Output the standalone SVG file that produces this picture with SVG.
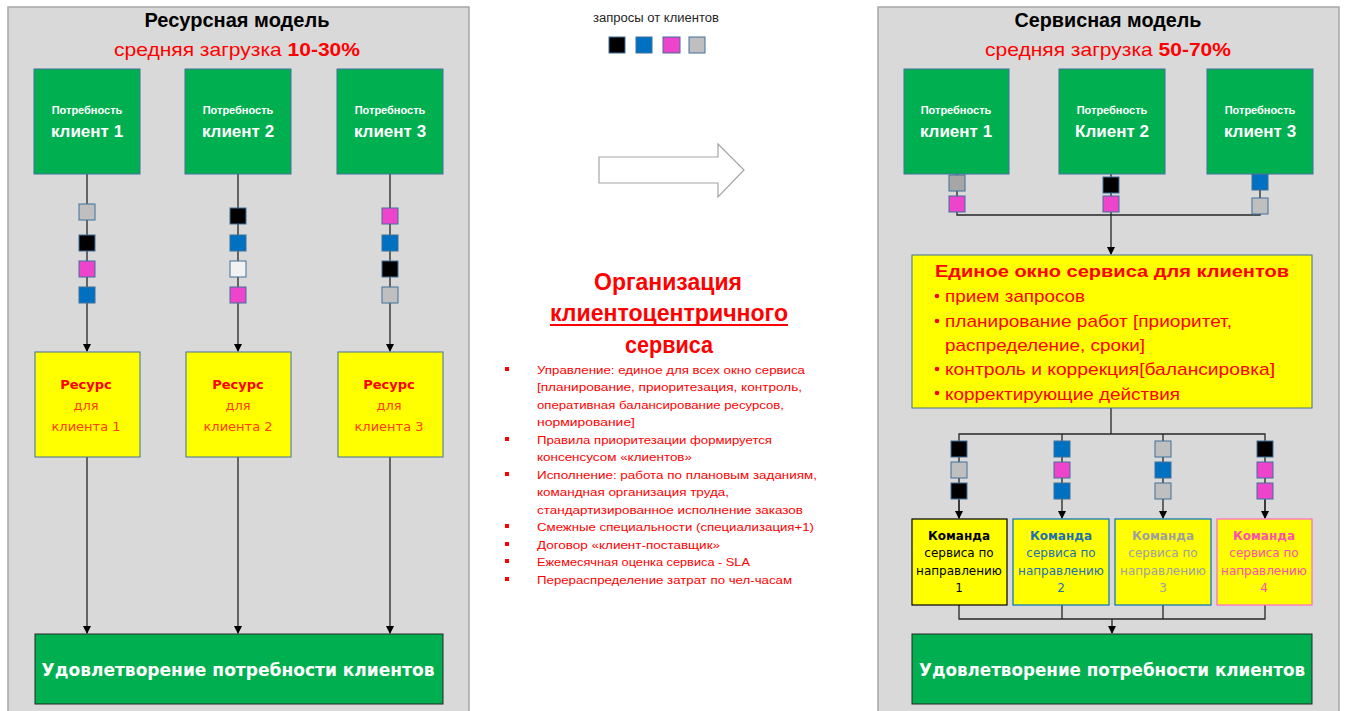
<svg xmlns="http://www.w3.org/2000/svg" width="1346" height="711" viewBox="0 0 1346 711">
  <style>
    .panel { fill: #D9D9D9; stroke: #A6A6A6; stroke-width: 1.5; }
    .need { fill: #00B050; stroke: #41719C; stroke-width: 1; }
    .res { fill: #FFFF00; stroke: #41719C; stroke-width: 1; }
    .sat { fill: #00B050; stroke: #262626; stroke-width: 1; }
    .ln { fill: none; stroke: #262626; stroke-width: 1.3; }
    .sq { stroke: #41719C; stroke-width: 1; }
    .k { fill: #000000; } .b { fill: #0070C0; } .m { fill: #EE44CC; } .g { fill: #BFBFBF; } .w { fill: #F2F2F2; } .dg { fill: #A6A6A6; }
    .t { font-family: "Liberation Sans", Arial, sans-serif; }
    .v { font-family: "DejaVu Sans", Verdana, sans-serif; }
    .ttl { font-size: 20px; font-weight: bold; fill: #000; text-anchor: middle; }
    .load { font-size: 19px; fill: #FF0000; text-anchor: middle; }
    .nd1 { font-size: 11px; font-weight: bold; fill: #FFFFFF; text-anchor: middle; }
    .nd2 { font-size: 17px; font-weight: bold; fill: #FFFFFF; text-anchor: middle; }
    .rs1 { font-size: 13px; font-weight: bold; fill: #FF0000; text-anchor: middle; }
    .rs2 { font-size: 13px; fill: #FF4000; text-anchor: middle; }
    .satt { font-size: 18px; font-weight: bold; fill: #FFFFFF; text-anchor: middle; }
    .org { font-size: 23px; font-weight: bold; fill: #FF0000; text-anchor: middle; }
    .li { font-size: 11.5px; fill: #FF0000; }
    .win { font-size: 17px; fill: #FF0000; }
    .tm { font-size: 12px; text-anchor: middle; }
  </style>
  <defs>
    <marker id="ah" markerWidth="8" markerHeight="8" refX="7" refY="4" orient="auto" markerUnits="userSpaceOnUse">
      <path d="M0,0 L8,4 L0,8 Z" fill="#000"/>
    </marker>
  </defs>

  <!-- panels -->
  <rect class="panel" x="8" y="7" width="461" height="710"/>
  <rect class="panel" x="878" y="7" width="461" height="710"/>

  <!-- left panel titles -->
  <text class="t ttl" x="237" y="27" textLength="185" lengthAdjust="spacingAndGlyphs">Ресурсная модель</text>
  <text class="t load" x="237" y="56" textLength="246" lengthAdjust="spacingAndGlyphs">средняя загрузка <tspan font-weight="bold">10-30%</tspan></text>

  <!-- right panel titles -->
  <text class="t ttl" x="1108" y="27" textLength="187" lengthAdjust="spacingAndGlyphs">Сервисная модель</text>
  <text class="t load" x="1108" y="56" textLength="246" lengthAdjust="spacingAndGlyphs">средняя загрузка <tspan font-weight="bold">50-70%</tspan></text>

  <!-- connectors -->
  <g id="connectors">
    <!-- resource model -->
    <line class="ln" x1="87" y1="174" x2="87" y2="351" marker-end="url(#ah)"/>
    <line class="ln" x1="238" y1="174" x2="238" y2="351" marker-end="url(#ah)"/>
    <line class="ln" x1="390" y1="174" x2="390" y2="351" marker-end="url(#ah)"/>
    <line class="ln" x1="87" y1="457" x2="87" y2="633" marker-end="url(#ah)"/>
    <line class="ln" x1="238" y1="457" x2="238" y2="633" marker-end="url(#ah)"/>
    <line class="ln" x1="390" y1="457" x2="390" y2="633" marker-end="url(#ah)"/>
    <!-- service model: needs to single window -->
    <polyline class="ln" points="957,174 957,215 1260,215 1260,174"/>
    <line class="ln" x1="1111" y1="174" x2="1111" y2="215"/>
    <line class="ln" x1="1111" y1="215" x2="1111" y2="254" marker-end="url(#ah)"/>
    <!-- single window to teams -->
    <line class="ln" x1="1111" y1="408" x2="1111" y2="434"/>
    <polyline class="ln" points="959,518 959,434 1265,434 1265,518"/>
    <line class="ln" x1="959" y1="500" x2="959" y2="518" marker-end="url(#ah)"/>
    <line class="ln" x1="1062" y1="434" x2="1062" y2="518" marker-end="url(#ah)"/>
    <line class="ln" x1="1163" y1="434" x2="1163" y2="518" marker-end="url(#ah)"/>
    <line class="ln" x1="1265" y1="500" x2="1265" y2="518" marker-end="url(#ah)"/>
    <!-- teams to satisfaction -->
    <polyline class="ln" points="959,605 959,619 1265,619 1265,605"/>
    <line class="ln" x1="1062" y1="605" x2="1062" y2="619"/>
    <line class="ln" x1="1163" y1="605" x2="1163" y2="619"/>
    <line class="ln" x1="1112" y1="619" x2="1112" y2="633" marker-end="url(#ah)"/>
  </g>

  <!-- request tokens, resource model -->
  <g id="tokens-left">
    <rect class="sq g" x="79" y="204" width="16" height="16"/>
    <rect class="sq k" x="79" y="235" width="16" height="16"/>
    <rect class="sq m" x="79" y="261" width="16" height="16"/>
    <rect class="sq b" x="79" y="287" width="16" height="16"/>
    <rect class="sq k" x="230" y="208" width="16" height="16"/>
    <rect class="sq b" x="230" y="235" width="16" height="16"/>
    <rect class="sq w" x="230" y="261" width="16" height="16"/>
    <rect class="sq m" x="230" y="287" width="16" height="16"/>
    <rect class="sq m" x="382" y="208" width="16" height="16"/>
    <rect class="sq b" x="382" y="235" width="16" height="16"/>
    <rect class="sq k" x="382" y="261" width="16" height="16"/>
    <rect class="sq g" x="382" y="287" width="16" height="16"/>
  </g>

  <!-- client needs, resource model -->
  <g id="need-l1"><rect class="need" x="34" y="69" width="106" height="105"/>
    <text class="t nd1" x="87" y="114">Потребность</text><text class="t nd2" x="87" y="137">клиент 1</text></g>
  <g id="need-l2"><rect class="need" x="185" y="69" width="106" height="105"/>
    <text class="t nd1" x="238" y="114">Потребность</text><text class="t nd2" x="238" y="137">клиент 2</text></g>
  <g id="need-l3"><rect class="need" x="337" y="69" width="106" height="105"/>
    <text class="t nd1" x="390" y="114">Потребность</text><text class="t nd2" x="390" y="137">клиент 3</text></g>

  <!-- resources -->
  <g id="res-1"><rect class="res" x="35" y="352" width="105" height="105"/>
    <text class="v rs1" x="86" y="389">Ресурс</text><text class="v rs2" x="86" y="410">для</text><text class="v rs2" x="86" y="431">клиента 1</text></g>
  <g id="res-2"><rect class="res" x="186" y="352" width="105" height="105"/>
    <text class="v rs1" x="238" y="389">Ресурс</text><text class="v rs2" x="238" y="410">для</text><text class="v rs2" x="238" y="431">клиента 2</text></g>
  <g id="res-3"><rect class="res" x="338" y="352" width="105" height="105"/>
    <text class="v rs1" x="389" y="389">Ресурс</text><text class="v rs2" x="389" y="410">для</text><text class="v rs2" x="389" y="431">клиента 3</text></g>

  <!-- satisfaction, resource model -->
  <g id="sat-left"><rect class="sat" x="35" y="634" width="408" height="70"/>
    <text class="v satt" x="238" y="676" textLength="393" lengthAdjust="spacingAndGlyphs">Удовлетворение  потребности  клиентов</text></g>

  <!-- legend -->
  <g id="legend">
    <text class="t" x="656" y="22" font-size="12" fill="#262626" text-anchor="middle" textLength="126" lengthAdjust="spacingAndGlyphs">запросы от клиентов</text>
    <rect class="sq k" x="609" y="37" width="16" height="16"/>
    <rect class="sq b" x="636" y="37" width="16" height="16"/>
    <rect class="sq m" x="663" y="37" width="17" height="16"/>
    <rect class="sq g" x="689" y="37" width="16" height="16"/>
  </g>

  <!-- transition arrow -->
  <g id="big-arrow">
    <path d="M599,157 L718,157 L718,144 L744,170 L718,197 L718,183 L599,183 Z" fill="#FFFFFF" stroke="#A6A6A6" stroke-width="1.2"/>
  </g>

  <!-- centre text -->
  <g id="org-text">
    <text class="t org" x="668" y="290" textLength="148" lengthAdjust="spacingAndGlyphs">Организация</text>
    <text class="t org" x="669" y="321" textLength="238" lengthAdjust="spacingAndGlyphs">клиентоцентричного</text>
    <line x1="550" y1="325" x2="788" y2="325" stroke="#FF0000" stroke-width="2"/>
    <text class="t org" x="669" y="353" textLength="88" lengthAdjust="spacingAndGlyphs">сервиса</text>
    <g fill="#FF0000">
      <rect x="505" y="367" width="4" height="4"/>
      <rect x="505" y="437" width="4" height="4"/>
      <rect x="505" y="472" width="4" height="4"/>
      <rect x="505" y="524" width="4" height="4"/>
      <rect x="505" y="542" width="4" height="4"/>
      <rect x="505" y="559" width="4" height="4"/>
      <rect x="505" y="577" width="4" height="4"/>
    </g>
    <text class="t li" x="537" y="374" textLength="268" lengthAdjust="spacingAndGlyphs">Управление:  единое  для всех  окно сервиса</text>
    <text class="t li" x="537" y="391" textLength="265" lengthAdjust="spacingAndGlyphs">[планирование, приоритезация, контроль,</text>
    <text class="t li" x="537" y="409" textLength="247" lengthAdjust="spacingAndGlyphs">оперативная балансирование ресурсов,</text>
    <text class="t li" x="537" y="426" textLength="98" lengthAdjust="spacingAndGlyphs">нормирование]</text>
    <text class="t li" x="537" y="444" textLength="235" lengthAdjust="spacingAndGlyphs">Правила приоритезации формируется</text>
    <text class="t li" x="537" y="461" textLength="155" lengthAdjust="spacingAndGlyphs">консенсусом «клиентов»</text>
    <text class="t li" x="537" y="479" textLength="280" lengthAdjust="spacingAndGlyphs">Исполнение:  работа по плановым заданиям,</text>
    <text class="t li" x="537" y="496" textLength="192" lengthAdjust="spacingAndGlyphs">командная организация труда,</text>
    <text class="t li" x="537" y="514" textLength="266" lengthAdjust="spacingAndGlyphs">стандартизированное исполнение  заказов</text>
    <text class="t li" x="537" y="531" textLength="277" lengthAdjust="spacingAndGlyphs">Смежные  специальности (специализация+1)</text>
    <text class="t li" x="537" y="549" textLength="183" lengthAdjust="spacingAndGlyphs">Договор  «клиент-поставщик»</text>
    <text class="t li" x="537" y="566" textLength="213" lengthAdjust="spacingAndGlyphs">Ежемесячная  оценка  сервиса - SLA</text>
    <text class="t li" x="537" y="584" textLength="255" lengthAdjust="spacingAndGlyphs">Перераспределение   затрат по чел-часам</text>
  </g>

  <!-- request tokens, service model -->
  <g id="tokens-right">
    <rect class="sq dg" x="949" y="175" width="16" height="16"/>
    <rect class="sq m" x="949" y="196" width="16" height="16"/>
    <rect class="sq k" x="1103" y="177" width="16" height="16"/>
    <rect class="sq m" x="1103" y="196" width="16" height="16"/>
    <rect class="sq b" x="1252" y="174" width="16" height="16"/>
    <rect class="sq g" x="1252" y="198" width="16" height="16"/>

    <rect class="sq k" x="951" y="441" width="16" height="16"/>
    <rect class="sq g" x="951" y="462" width="16" height="16"/>
    <rect class="sq k" x="951" y="483" width="16" height="16"/>
    <rect class="sq b" x="1054" y="441" width="16" height="16"/>
    <rect class="sq m" x="1054" y="462" width="16" height="16"/>
    <rect class="sq b" x="1054" y="483" width="16" height="16"/>
    <rect class="sq g" x="1155" y="441" width="16" height="16"/>
    <rect class="sq b" x="1155" y="462" width="16" height="16"/>
    <rect class="sq g" x="1155" y="483" width="16" height="16"/>
    <rect class="sq k" x="1257" y="441" width="16" height="16"/>
    <rect class="sq m" x="1257" y="462" width="16" height="16"/>
    <rect class="sq m" x="1257" y="483" width="16" height="16"/>
  </g>

  <!-- client needs, service model -->
  <g id="need-r1"><rect class="need" x="904" y="69" width="105" height="105"/>
    <text class="t nd1" x="956" y="114">Потребность</text><text class="t nd2" x="956" y="137">клиент 1</text></g>
  <g id="need-r2"><rect class="need" x="1059" y="69" width="106" height="105"/>
    <text class="t nd1" x="1112" y="114">Потребность</text><text class="t nd2" x="1112" y="137">Клиент 2</text></g>
  <g id="need-r3"><rect class="need" x="1207" y="69" width="106" height="105"/>
    <text class="t nd1" x="1260" y="114">Потребность</text><text class="t nd2" x="1260" y="137">клиент 3</text></g>

  <!-- single service window -->
  <g id="window">
    <rect class="res" x="912" y="255" width="400" height="153"/>
    <text class="t win" x="935" y="277" font-weight="bold" textLength="354" lengthAdjust="spacingAndGlyphs">Единое окно  сервиса для клиентов</text>
    <g fill="#FF0000">
      <circle cx="937" cy="296" r="2.3"/>
      <circle cx="937" cy="321" r="2.3"/>
      <circle cx="937" cy="369" r="2.3"/>
      <circle cx="937" cy="393" r="2.3"/>
    </g>
    <text class="t win" x="945" y="302" textLength="140" lengthAdjust="spacingAndGlyphs">прием запросов</text>
    <text class="t win" x="945" y="327" textLength="287" lengthAdjust="spacingAndGlyphs">планирование работ [приоритет,</text>
    <text class="t win" x="945" y="351" textLength="200" lengthAdjust="spacingAndGlyphs">распределение, сроки]</text>
    <text class="t win" x="945" y="375" textLength="330" lengthAdjust="spacingAndGlyphs">контроль и коррекция[балансировка]</text>
    <text class="t win" x="945" y="400" textLength="235" lengthAdjust="spacingAndGlyphs">корректирующие действия</text>
  </g>

  <!-- service teams -->
  <g id="team-1"><rect x="912" y="519" width="95" height="86" fill="#FFFF00" stroke="#000" stroke-width="1.2"/>
    <g class="v tm" fill="#000"><text x="959" y="540" font-weight="bold">Команда</text><text x="959" y="557">сервиса по</text><text x="959" y="575">направлению</text><text x="959" y="592">1</text></g></g>
  <g id="team-2"><rect x="1013" y="519" width="96" height="86" fill="#FFFF00" stroke="#0070C0" stroke-width="1.2"/>
    <g class="v tm" fill="#1F6FB5"><text x="1061" y="540" font-weight="bold">Команда</text><text x="1061" y="557">сервиса по</text><text x="1061" y="575">направлению</text><text x="1061" y="592">2</text></g></g>
  <g id="team-3"><rect x="1115" y="519" width="96" height="86" fill="#FFFF00" stroke="#0070C0" stroke-width="1.2"/>
    <g class="v tm" fill="#A0A0A0"><text x="1163" y="540" font-weight="bold">Команда</text><text x="1163" y="557">сервиса по</text><text x="1163" y="575">направлению</text><text x="1163" y="592">3</text></g></g>
  <g id="team-4"><rect x="1217" y="519" width="95" height="86" fill="#FFFF00" stroke="#FF66CC" stroke-width="1.2"/>
    <g class="v tm" fill="#FF4FB0"><text x="1264" y="540" font-weight="bold">Команда</text><text x="1264" y="557">сервиса по</text><text x="1264" y="575">направлению</text><text x="1264" y="592">4</text></g></g>

  <!-- satisfaction, service model -->
  <g id="sat-right"><rect class="sat" x="912" y="634" width="400" height="70"/>
    <text class="v satt" x="1112" y="676" font-size="17.5" textLength="386" lengthAdjust="spacingAndGlyphs">Удовлетворение  потребности  клиентов</text></g>
</svg>
